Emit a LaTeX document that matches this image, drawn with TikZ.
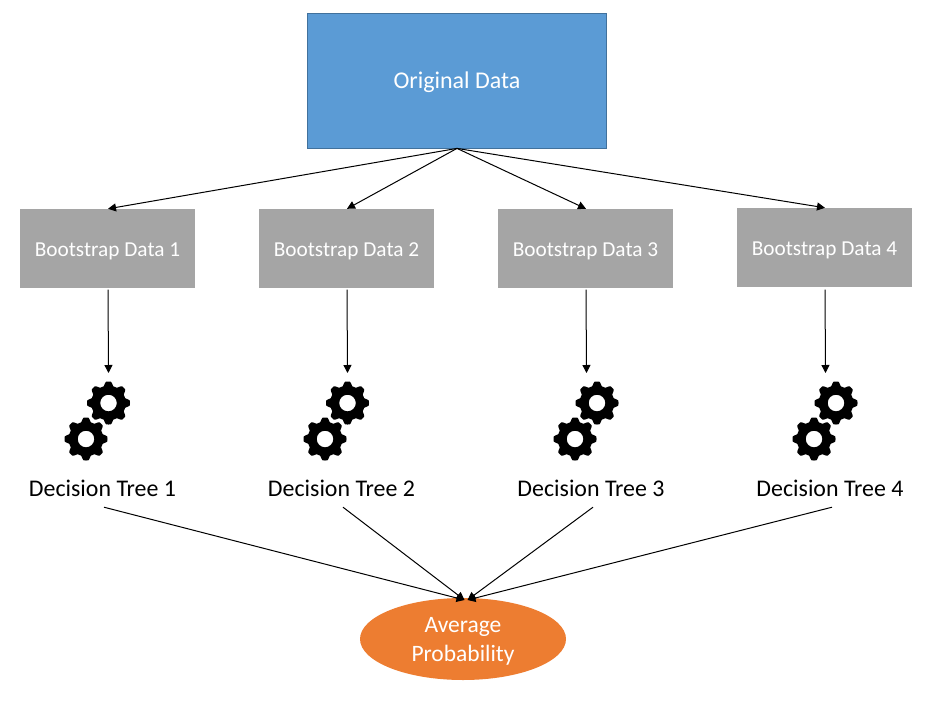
\documentclass[tikz,border=0pt]{standalone}
\usepackage{fontspec}
\setmainfont{Carlito}
\usetikzlibrary{arrows.meta,shapes.geometric}
\definecolor{blueb}{HTML}{5B9BD5}
\definecolor{blueedge}{HTML}{41719C}
\definecolor{grayb}{HTML}{A5A5A5}
\definecolor{orangeb}{HTML}{ED7D31}
\tikzset{
  x=1pt,y=-1pt,
  link/.style={draw=black,line width=1pt,-{Triangle[length=8pt,width=8pt]}},
  origbox/.style={draw=blueedge,line width=0.8pt,fill=blueb,text=white,minimum width=299.5pt,minimum height=135pt,text height=16.4pt,text depth=0pt,font=\fontsize{24}{28}\selectfont},
  bootbox/.style={fill=grayb,text=white,minimum width=175pt,minimum height=79pt,text height=15.4pt,text depth=0pt,font=\fontsize{21.3}{25}\selectfont},
  dtlabel/.style={text=black,inner sep=0pt,minimum height=38pt,font=\fontsize{23.9}{28}\selectfont},
  avgnode/.style={ellipse,fill=orangeb,text=white,inner sep=0pt,minimum width=206pt,minimum height=82pt,font=\fontsize{23.5}{29}\selectfont},
  gear/.pic={
    \fill[black,even odd rule]
      plot[samples=193,domain=0:360] ({(17.3+4.2*min(1,max(0,0.5+0.8*cos(8*\x))))*cos(\x)},{(17.3+4.2*min(1,max(0,0.5+0.8*cos(8*\x))))*sin(\x)}) -- cycle
      (0,0) circle[radius=8.3];
  }
}
\begin{document}
\begin{tikzpicture}
\useasboundingbox (0,0) rectangle (936,701);
\node[origbox] (orig) at (457,80.5) {Original Data};
\node[bootbox] (b1) at (107.5,248.5) {Bootstrap Data 1};
\node[bootbox] (b2) at (346.5,248.5) {Bootstrap Data 2};
\node[bootbox] (b3) at (585.5,248.5) {Bootstrap Data 3};
\node[bootbox] (b4) at (824.5,247.5) {Bootstrap Data 4};
\node[dtlabel] (d1) at (102.5,488.5) {Decision Tree 1};
\node[dtlabel] (d2) at (341.5,488.5) {Decision Tree 2};
\node[dtlabel] (d3) at (591,488.5) {Decision Tree 3};
\node[dtlabel] (d4) at (830,488.5) {Decision Tree 4};
\node[avgnode] (avg) at (463,639) {\smash{\raisebox{-8.2pt}{\begin{tabular}{@{}c@{}}Average\\Probability\end{tabular}}}};
\pic (g1a) at (108.5,403) {gear};
\pic (g1b) at (86,439) {gear};
\pic (g2a) at (347.5,403) {gear};
\pic (g2b) at (325,439) {gear};
\pic (g3a) at (597,403) {gear};
\pic (g3b) at (575,439) {gear};
\pic (g4a) at (836,403) {gear};
\pic (g4b) at (814,439) {gear};
\coordinate (t1) at (108.5,373);
\coordinate (t2) at (347.5,373);
\coordinate (t3) at (586.5,373);
\coordinate (t4) at (825.5,373);
\coordinate (avgL) at (464.5,600);
\coordinate (avgR) at (467.5,600);
\draw[link] (orig.south) -- ([xshift=0.5pt]b1.north);
\draw[link] (orig.south) -- ([xshift=0.5pt]b2.north);
\draw[link] (orig.south) -- ([xshift=0.5pt]b3.north);
\draw[link] (orig.south) -- ([xshift=0.5pt]b4.north);
\draw[link] ([xshift=0.5pt,yshift=-1.5pt]b1.south) -- (t1);
\draw[link] ([xshift=0.5pt,yshift=-1.5pt]b2.south) -- (t2);
\draw[link] ([xshift=0.5pt,yshift=-1.5pt]b3.south) -- (t3);
\draw[link] ([xshift=0.5pt,yshift=-2.5pt]b4.south) -- (t4);
\draw[link] ([xshift=1.5pt,yshift=0.5pt]d1.south) -- (avgL);
\draw[link] ([xshift=1.5pt,yshift=0.5pt]d2.south) -- (avgL);
\draw[link] ([xshift=2pt,yshift=0.5pt]d3.south) -- (avgR);
\draw[link] ([xshift=2pt,yshift=0.5pt]d4.south) -- (avgR);
\end{tikzpicture}
\end{document}
